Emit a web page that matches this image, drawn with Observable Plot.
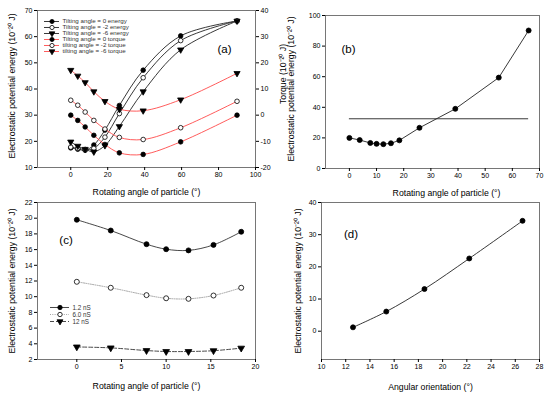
<!DOCTYPE html>
<html>
<head>
<meta charset="utf-8">
<script src="https://cdn.jsdelivr.net/npm/d3@7"></script>
<script src="https://cdn.jsdelivr.net/npm/@observablehq/plot@0.6"></script>
<style>
  html, body { margin: 0; padding: 0; background: #fff; }
  #fig { position: relative; width: 550px; height: 395px; background: #fff; overflow: hidden; }
</style>
</head>
<body>
<div id="fig"></div>
<script>
// ---------- DATA ----------
// Panel (a)
const aAngle   = [0, 3.8, 7.8, 12.5, 18.5, 26.3, 39.2, 59.5, 90];
const aEnergy0 = [17.5, 17.0, 16.6, 18.6, 24.3, 33.7, 47.2, 60.3, 66];
const aEnergy2 = [17.8, 17.3, 16.9, 17.3, 21.6, 30.6, 44.3, 58.5, 66];
const aEnergy6 = [19.8, 18.2, 17.0, 16.0, 18.4, 25.7, 39.0, 55.0, 66];
const aTorque0 = [0, -2, -4.5, -7.7, -11.2, -14.4, -15, -10.2, 0];
const aTorque2 = [5.7, 3.8, 1.2, -2, -5.3, -8.5, -9.3, -4.8, 5.3];
const aTorque6 = [17.2, 15, 12.5, 9, 5.3, 2.3, 1.7, 5.9, 16];
const aLegend = ["Tilting angle = 0 energy", "Tilting angle = -2 energy", "Tilting angle = -6 energy",
                 "Tilting angle = 0 torque", "tilting angle = -2 torque", "tilting angle = -6 torque"];
const aXTicks = [0, 20, 40, 60, 80, 100];
const aYTicks = [10, 20, 30, 40, 50, 60, 70];
const aTorqueTicks = [-20, -10, 0, 10, 20, 30, 40];

// Panel (b)
const bAngle  = [0, 3.8, 7.7, 10, 12.5, 15.3, 18.4, 25.8, 39, 55, 66];
const bEnergy = [20, 18.6, 16.7, 16.1, 15.9, 16.5, 18.4, 26.6, 39, 59.4, 90.2];
const bLevel = [32.5];
const bLevelSpan = [0, 66];
const bXTicks = [0, 10, 20, 30, 40, 50, 60, 70];
const bYTicks = [0, 20, 40, 60, 80, 100];

// Panel (c)
const cAngle = [0, 3.8, 7.8, 10, 12.5, 15.3, 18.4];
const c12  = [19.8, 18.43, 16.69, 16.05, 15.9, 16.6, 18.27];
const c60  = [11.9, 11.14, 10.2, 9.8, 9.73, 10.15, 11.14];
const c120 = [3.6, 3.48, 3.14, 3.02, 3.02, 3.12, 3.45];
const cLegend = ["1.2 nS", "6.0 nS", "12 nS"];
const cXTicks = [0, 5, 10, 15, 20];
const cYTicks = [2, 4, 6, 8, 10, 12, 14, 16, 18, 20, 22];

// Panel (d)
const dAngle  = [12.6, 15.35, 18.5, 22.2, 26.6];
const dEnergy = [1.2, 6.1, 13.1, 22.6, 34.3];
const dXTicks = [10, 12, 14, 16, 18, 20, 22, 24, 26, 28];
const dYTicks = [0, 10, 20, 30, 40];

const titleRot = "Rotating angle of particle (°)";
const titleEnergy = "Electrostatic potential energy (10⁻²⁰ J)";
const titleTorque = "Torque (10⁻²⁰ J)";
const titleOrient = "Angular orientation (°)";

// ---------- HELPERS ----------
const FONT = "'Liberation Sans', Arial, Helvetica, sans-serif";
const RED = "#ff4a4a";
const fmt = d => String(d);
const fig = document.getElementById("fig");
const baseStyle = {background: "transparent", overflow: "visible", fontFamily: FONT, color: "#000"};

function place(svg, left, top) {
  svg.style.position = "absolute";
  svg.style.left = left + "px";
  svg.style.top = top + "px";
  svg.style.maxWidth = "none";
  fig.appendChild(svg);
}

function series(xs, ys, o) {
  const data = xs.map((x, i) => ({x, y: ys[i]}));
  return [
    Plot.line(data, {x: "x", y: "y", stroke: o.stroke, strokeWidth: o.sw ?? 0.9,
      curve: o.curve ?? "catmull-rom", strokeDasharray: o.dash}),
    Plot.dot(data, {x: "x", y: "y", r: o.r ?? 2.3, symbol: o.symbol ?? "circle",
      rotate: o.rotate ?? 0, fill: o.fill, stroke: o.dotStroke ?? "#000", strokeWidth: 0.8})
  ];
}

function axes(xt, yt) {
  return [
    Plot.frame({stroke: "#555", strokeWidth: 0.8}),
    Plot.axisX({ticks: xt, tickSize: 3, tickPadding: 2, tickFormat: fmt, fontSize: 7, label: null}),
    Plot.axisY({ticks: yt, tickSize: 3, tickPadding: 2, tickFormat: fmt, fontSize: 7, label: null})
  ];
}

function txt(s, o) {
  return Plot.text([s], {text: d => d, textAnchor: "middle", lineAnchor: "middle", fill: "#000", ...o});
}

function legend(entries, {left, top, rowH, lineW, textW, fontSize, r}) {
  const labels = entries.map(e => e.label);
  const marks = [];
  for (const e of entries) {
    marks.push(Plot.tickY([e], {y: "label", stroke: e.stroke, strokeWidth: 0.9, strokeDasharray: e.dash}));
    marks.push(Plot.dot([e], {y: "label", frameAnchor: "middle", r, symbol: e.symbol,
      rotate: e.rotate ?? 0, fill: e.fill, stroke: e.dotStroke ?? "#000", strokeWidth: 0.8}));
  }
  marks.push(Plot.text(entries, {y: "label", text: "label", frameAnchor: "right", textAnchor: "start",
    dx: 3, fontSize, fill: "#333"}));
  const svg = Plot.plot({
    width: lineW + textW, height: rowH * entries.length,
    marginLeft: 0, marginTop: 0, marginBottom: 0, marginRight: textW,
    y: {type: "point", domain: labels, padding: 0.5, axis: null},
    style: baseStyle,
    marks
  });
  place(svg, left, top);
}

// ---------- PANEL (a) ----------
const aDims = {width: 275, height: 197, marginLeft: 37, marginRight: 20, marginTop: 10, marginBottom: 30};
place(Plot.plot({
  ...aDims,
  x: {domain: [-18, 100]},
  y: {domain: [10, 70]},
  style: baseStyle,
  marks: [
    ...axes(aXTicks, aYTicks),
    ...series(aAngle, aEnergy0, {stroke: "#222", fill: "#000"}),
    ...series(aAngle, aEnergy2, {stroke: "#222", fill: "#fff"}),
    ...series(aAngle, aEnergy6, {stroke: "#222", fill: "#000", symbol: "triangle", rotate: 180}),
    txt(titleRot, {frameAnchor: "bottom", dy: 24.5, fontSize: 8.7}),
    txt(titleEnergy, {frameAnchor: "left", dx: -25, dy: -3, rotate: -90, fontSize: 8.7}),
    txt("(a)", {frameAnchor: "top-left", dx: 187, dy: 39, fontSize: 11.5})
  ]
}), 0, 0);

place(Plot.plot({
  ...aDims,
  x: {domain: [-18, 100], axis: null},
  y: {domain: [-20, 40]},
  style: baseStyle,
  marks: [
    Plot.axisY({anchor: "right", ticks: aTorqueTicks, tickSize: 3, tickPadding: 2, tickFormat: fmt, fontSize: 7, label: null}),
    ...series(aAngle, aTorque0, {stroke: RED, fill: "#000"}),
    ...series(aAngle, aTorque2, {stroke: RED, fill: "#fff"}),
    ...series(aAngle, aTorque6, {stroke: RED, fill: "#000", symbol: "triangle", rotate: 180}),
    txt(titleTorque, {frameAnchor: "right", dx: 28, dy: -15, rotate: -90, fontSize: 8.7})
  ]
}), 0, 0);

legend([
  {label: aLegend[0], stroke: "#222", fill: "#000", symbol: "circle"},
  {label: aLegend[1], stroke: "#222", fill: "#fff", symbol: "circle"},
  {label: aLegend[2], stroke: "#222", fill: "#000", symbol: "triangle", rotate: 180},
  {label: aLegend[3], stroke: RED, fill: "#000", symbol: "circle"},
  {label: aLegend[4], stroke: RED, fill: "#fff", symbol: "circle"},
  {label: aLegend[5], stroke: RED, fill: "#000", symbol: "triangle", rotate: 180}
], {left: 44, top: 16, rowH: 6.8, lineW: 15, textW: 90, fontSize: 6.2, r: 2.1});

// ---------- PANEL (b) ----------
place(Plot.plot({
  width: 275, height: 197, marginLeft: 50, marginRight: 11, marginTop: 15, marginBottom: 29,
  x: {domain: [-8.8, 70]},
  y: {domain: [0, 100]},
  style: baseStyle,
  marks: [
    ...axes(bXTicks, bYTicks),
    Plot.ruleY(bLevel, {x1: bLevelSpan[0], x2: bLevelSpan[1], stroke: "#222", strokeWidth: 0.9}),
    ...series(bAngle, bEnergy, {stroke: "#222", fill: "#000", curve: "linear", r: 2.5}),
    txt(titleRot, {frameAnchor: "bottom", dx: 14, dy: 25, fontSize: 8.7}),
    txt(titleEnergy, {frameAnchor: "left", dx: -34, dy: -3, rotate: -90, fontSize: 8.7}),
    txt("(b)", {frameAnchor: "top-left", dx: 23, dy: 34, fontSize: 11.5})
  ]
}), 275, 0);

// ---------- PANEL (c) ----------
place(Plot.plot({
  width: 275, height: 198, marginLeft: 37, marginRight: 20, marginTop: 5, marginBottom: 36,
  x: {domain: [-4.4, 20]},
  y: {domain: [2, 22]},
  style: baseStyle,
  marks: [
    ...axes(cXTicks, cYTicks),
    ...series(cAngle, c12, {stroke: "#333", fill: "#000", r: 2.5}),
    ...series(cAngle, c60, {stroke: "#999", fill: "#fff", r: 2.5, dash: "1,1.3"}),
    ...series(cAngle, c120, {stroke: "#333", fill: "#000", r: 2.5, symbol: "triangle", rotate: 180, dash: "4,2"}),
    txt(titleRot, {frameAnchor: "bottom", dy: 26.7, fontSize: 8.7}),
    txt(titleEnergy, {frameAnchor: "left", dx: -25, rotate: -90, fontSize: 8.7}),
    txt("(c)", {frameAnchor: "top-left", dx: 28.5, dy: 38, fontSize: 11.5})
  ]
}), 0, 197);

legend([
  {label: cLegend[0], stroke: "#333", fill: "#000", symbol: "circle"},
  {label: cLegend[1], stroke: "#999", fill: "#fff", symbol: "circle", dash: "1,1.3"},
  {label: cLegend[2], stroke: "#333", fill: "#000", symbol: "triangle", rotate: 180, dash: "4,2"}
], {left: 49.5, top: 303.3, rowH: 7.1, lineW: 19, textW: 40, fontSize: 6.3, r: 2.2});

// ---------- PANEL (d) ----------
place(Plot.plot({
  width: 275, height: 198, marginLeft: 46, marginRight: 11, marginTop: 5, marginBottom: 36,
  x: {domain: [10, 28]},
  y: {domain: [-8.8, 40]},
  style: baseStyle,
  marks: [
    ...axes(dXTicks, dYTicks),
    ...series(dAngle, dEnergy, {stroke: "#222", fill: "#000", r: 2.5}),
    txt(titleOrient, {frameAnchor: "bottom", dy: 27.7, fontSize: 8.7}),
    txt(titleEnergy, {frameAnchor: "left", dx: -23, rotate: -90, fontSize: 8.7}),
    txt("(d)", {frameAnchor: "top-left", dx: 29.5, dy: 32, fontSize: 11.5})
  ]
}), 275, 197);
</script>
</body>
</html>
